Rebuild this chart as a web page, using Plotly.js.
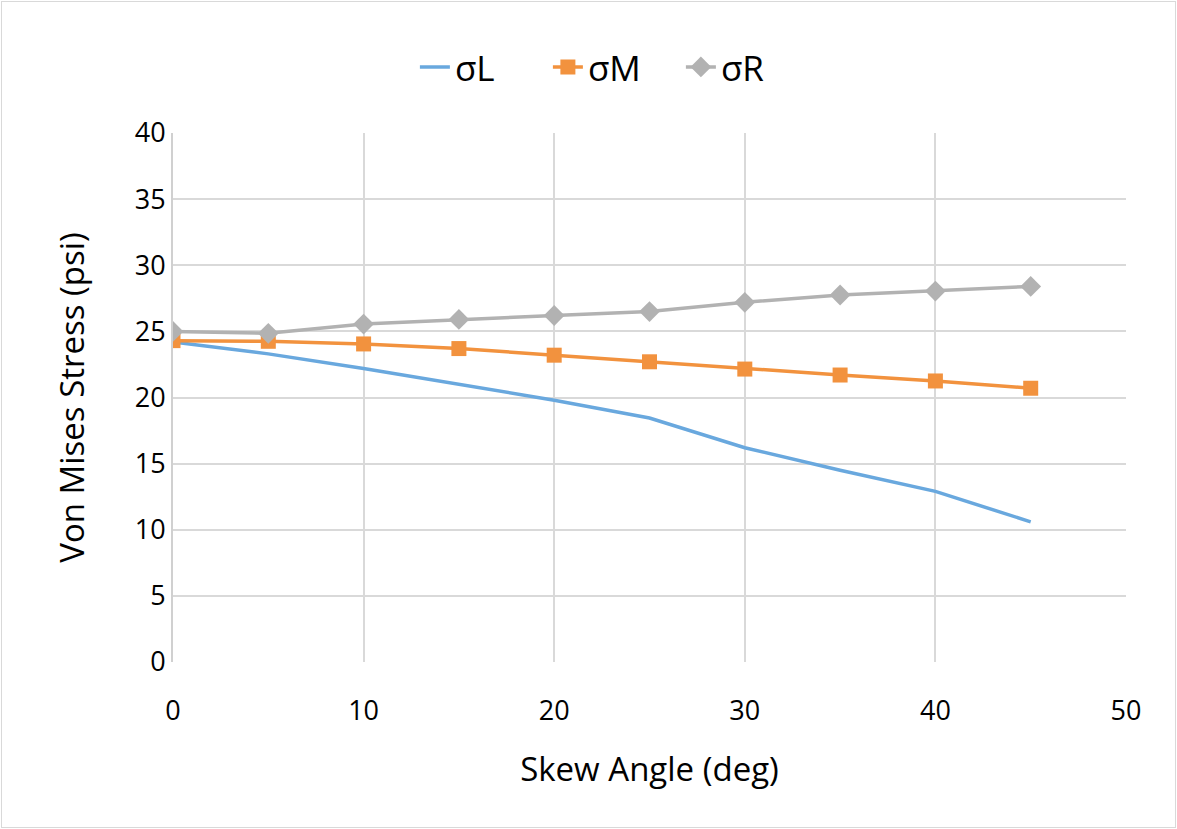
<!DOCTYPE html>
<html>
<head>
<meta charset="utf-8">
<script src="https://cdn.plot.ly/plotly-3.0.1.min.js"></script>
<style>
  html, body { margin: 0; padding: 0; background: #fff; }
  #wrap { position: relative; width: 1177px; height: 829px; }
  #chart { width: 1177px; height: 829px; }
  #frame { position: absolute; left: 1px; top: 1px; width: 1173px; height: 825px;
           border: 1px solid #d9d9d9; pointer-events: none; }
</style>
</head>
<body>
<div id="wrap">
  <div id="chart"></div>
  <div id="frame"></div>
</div>
<script>
// Skew angle (deg) and von Mises stress (psi) for the three locations
const skewAngle = [0, 5, 10, 15, 20, 25, 30, 35, 40, 45];
const sigmaL = [24.2, 23.3, 22.2, 21.0, 19.8, 18.45, 16.2, 14.5, 12.9, 10.6];
const sigmaM = [24.3, 24.25, 24.05, 23.7, 23.2, 22.7, 22.15, 21.7, 21.25, 20.7];
const sigmaR = [25.0, 24.85, 25.55, 25.9, 26.2, 26.5, 27.2, 27.75, 28.05, 28.4];
const seriesNames = ['σL', 'σM', 'σR'];

const font = 'Open Sans, Lato, sans-serif';

const traces = [
  {
    x: skewAngle, y: sigmaL, name: seriesNames[0], type: 'scatter', mode: 'lines',
    line: { color: '#69a8de', width: 3.5 }
  },
  {
    x: skewAngle, y: sigmaM, name: seriesNames[1], type: 'scatter', mode: 'lines+markers',
    line: { color: '#f2923e', width: 3.5 },
    marker: { symbol: 'square', size: 15, color: '#f2923e' }
  },
  {
    x: skewAngle, y: sigmaR, name: seriesNames[2], type: 'scatter', mode: 'lines+markers',
    line: { color: '#b2b2b2', width: 3.5 },
    marker: { symbol: 'diamond', size: 16, color: '#b2b2b2' }
  }
];

const layout = {
  width: 1177, height: 829,
  paper_bgcolor: '#fff', plot_bgcolor: '#fff',
  margin: { l: 173, r: 51, t: 133, b: 167 },
  font: { family: font, color: '#000' },
  showlegend: true,
  legend: {
    orientation: 'h', x: 0.522, xanchor: 'center', y: 0.919, yanchor: 'middle',
    yref: 'container', xref: 'container',
    font: { size: 35, family: font },
    entrywidth: 88, entrywidthmode: 'pixels',
    tracegroupgap: 0
  },
  xaxis: {
    range: [0, 50], dtick: 10, tick0: 0,
    showgrid: true, gridcolor: '#d9d9d9', gridwidth: 2,
    zeroline: false, showline: false,
    ticks: '', ticklabelstandoff: 30,
    tickfont: { size: 27, family: font },
    title: { text: 'Skew Angle (deg)', font: { size: 33, family: font }, standoff: 30 }
  },
  yaxis: {
    range: [0, 40], dtick: 5, tick0: 0,
    showgrid: true, gridcolor: '#d9d9d9', gridwidth: 2,
    zeroline: false, showline: true, linecolor: '#d0d0d0', linewidth: 2,
    ticks: '', ticklabelstandoff: 0,
    tickfont: { size: 27, family: font },
    title: { text: 'Von Mises Stress (psi)', font: { size: 33, family: font }, standoff: 40 }
  }
};

Plotly.newPlot('chart', traces, layout, { displayModeBar: false, staticPlot: true });
</script>
</body>
</html>
